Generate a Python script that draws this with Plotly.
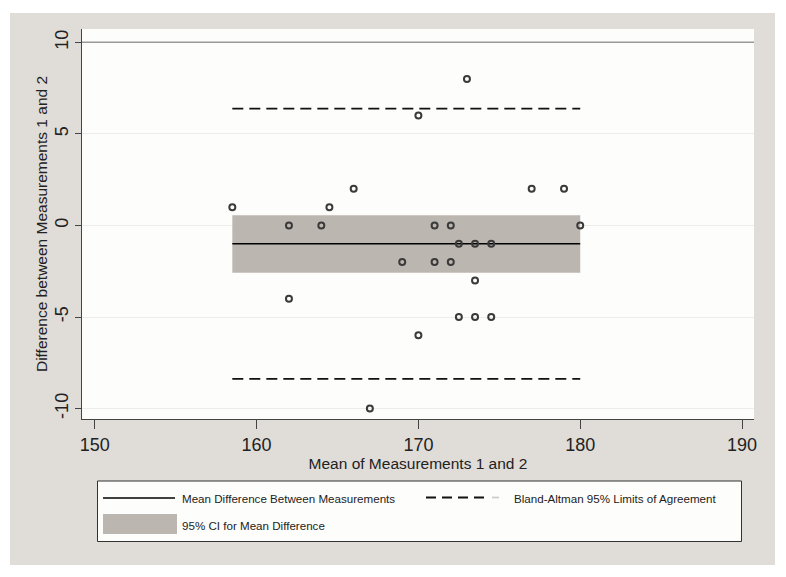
import plotly.graph_objects as go

# ---- data ----
mean_vals = [158.5, 166, 164.5, 177, 179, 162, 164, 171, 172, 180,
             172.5, 173.5, 174.5, 169, 171, 172, 173.5, 162,
             172.5, 173.5, 174.5, 170, 170, 173, 167]
diff_vals = [1, 2, 1, 2, 2, 0, 0, 0, 0, 0,
             -1, -1, -1, -2, -2, -2, -3, -4,
             -5, -5, -5, -6, 6, 8, -10]
x_span = [158.5, 180]          # range of the means
mean_diff = -1.0
loa_upper = 6.38
loa_lower = -8.38
ci_upper = 0.56
ci_lower = -2.58
ref_line_y = 10

x_ticks = [150, 160, 170, 180, 190]
y_ticks = [-10, -5, 0, 5, 10]

x_title = "Mean of Measurements 1 and 2"
y_title = "Difference between Measurements 1 and 2"
leg_mean = "Mean Difference Between Measurements"
leg_loa = "Bland-Altman 95% Limits of Agreement"
leg_ci = "95% CI for Mean Difference"

# ---- styling ----
FONT = "Liberation Sans, Arial, sans-serif"
PANEL = "#e0dcd8"
PLOTBG = "#fdfdfb"
CI_COL = "#bcb6b1"
DARK = "#222222"

OFF = 8                         # page body margin
W, H = 786 - OFF, 577 - OFF
PL, PR, PT, PB = 82, 754, 29, 419   # plot area in window pixels
L, T = PL - OFF, PT - OFF
R, B = W - (PR - OFF), H - (PB - OFF)
PW, PH = PR - PL, PB - PT


def px(x):
    return (x - PL) / PW


def py(y):
    return (PB - y) / PH


fig = go.Figure()

# CI band
fig.add_trace(go.Scatter(
    x=[x_span[0], x_span[1], x_span[1], x_span[0], x_span[0]],
    y=[ci_lower, ci_lower, ci_upper, ci_upper, ci_lower],
    fill="toself", fillcolor=CI_COL, mode="lines", line=dict(width=0),
    name=leg_ci, showlegend=False, hoverinfo="skip"))

# mean difference
fig.add_trace(go.Scatter(x=x_span, y=[mean_diff, mean_diff], mode="lines",
                         line=dict(color="black", width=1.6),
                         name=leg_mean, showlegend=False))
# limits of agreement
for v in (loa_upper, loa_lower):
    fig.add_trace(go.Scatter(x=x_span, y=[v, v], mode="lines",
                             line=dict(color="#111111", width=1.8, dash="11px,6px"),
                             name=leg_loa, showlegend=False))

# points
fig.add_trace(go.Scatter(x=mean_vals, y=diff_vals, mode="markers",
                         marker=dict(symbol="circle-open", size=6,
                                     line=dict(width=2, color="#3a3a3a"),
                                     color="#3a3a3a"),
                         showlegend=False))

shapes = [
    # gray outer panel
    dict(type="rect", xref="paper", yref="paper", layer="below",
         x0=px(10), x1=px(775), y0=py(565), y1=py(13),
         fillcolor=PANEL, line=dict(width=0)),
    # plot background
    dict(type="rect", xref="x domain", yref="y domain", layer="below",
         x0=0, x1=1, y0=0, y1=1, fillcolor=PLOTBG, line=dict(width=0)),
    # reference line at top
    dict(type="line", xref="x domain", yref="y", x0=0, x1=1,
         y0=ref_line_y, y1=ref_line_y, line=dict(color="#9a9a9a", width=1.5)),
    # legend box
    dict(type="rect", xref="paper", yref="paper",
         x0=px(97.5), x1=px(741.5), y0=py(541.5), y1=py(481),
         fillcolor=PLOTBG, line=dict(color="#333333", width=1)),
    # legend: solid line sample
    dict(type="line", xref="paper", yref="paper",
         x0=px(103), x1=px(175), y0=py(498), y1=py(498),
         line=dict(color="black", width=1.6)),
    # legend: dashed sample
    dict(type="line", xref="paper", yref="paper",
         x0=px(426), x1=px(484), y0=py(497.5), y1=py(497.5),
         line=dict(color="#111111", width=1.8, dash="10px,6px")),
    dict(type="line", xref="paper", yref="paper",
         x0=px(492), x1=px(499), y0=py(497.5), y1=py(497.5),
         line=dict(color="#cccccc", width=1.8)),
    # legend: CI swatch
    dict(type="rect", xref="paper", yref="paper",
         x0=px(103), x1=px(177), y0=py(534), y1=py(514),
         fillcolor=CI_COL, line=dict(width=0)),
]

leg_font = dict(family=FONT, size=11.6, color=DARK)
annotations = [
    dict(xref="paper", yref="paper", x=px(180), y=py(498), text=leg_mean,
         showarrow=False, xanchor="left", yanchor="middle", font=leg_font),
    dict(xref="paper", yref="paper", x=px(512), y=py(498), text=leg_loa,
         showarrow=False, xanchor="left", yanchor="middle", font=leg_font),
    dict(xref="paper", yref="paper", x=px(180), y=py(525), text=leg_ci,
         showarrow=False, xanchor="left", yanchor="middle", font=leg_font),
]

axis_common = dict(showline=True, linecolor="#444444", linewidth=1,
                   ticks="outside", tickcolor="#444444",
                   tickfont=dict(family=FONT, size=18, color=DARK),
                   zeroline=False)

fig.update_layout(
    width=W, height=H,
    margin=dict(l=L, r=R, t=T, b=B),
    paper_bgcolor="white",
    plot_bgcolor=PLOTBG,
    showlegend=False,
    shapes=shapes,
    annotations=annotations,
    xaxis=dict(range=[149.21, 190.74], tickvals=x_ticks,
               ticktext=[str(v) for v in x_ticks], ticklen=9,
               showgrid=False,
               title=dict(text=x_title, standoff=4,
                          font=dict(family=FONT, size=15.5, color=DARK)),
               **axis_common),
    yaxis=dict(range=[-10.57, 10.73], tickvals=y_ticks,
               ticktext=[str(v) for v in y_ticks], ticklen=6, tickangle=-90,
               showgrid=True, gridcolor="#ecece8", gridwidth=1,
               title=dict(text=y_title, standoff=0,
                          font=dict(family=FONT, size=15.5, color=DARK)),
               **axis_common),
)

fig.write_html("out.html")
